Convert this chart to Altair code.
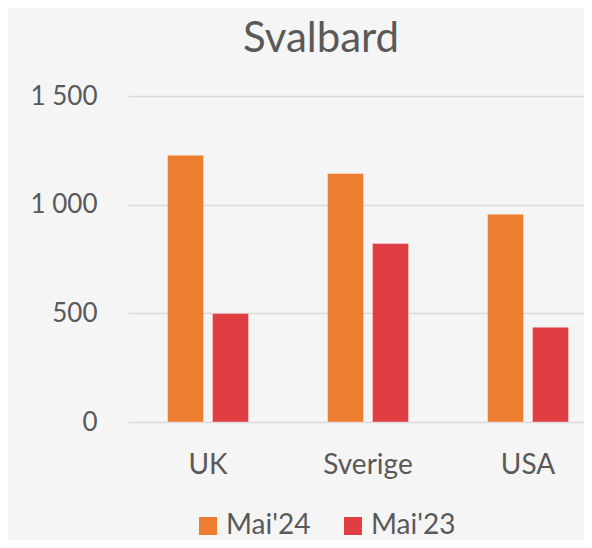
import altair as alt
import pandas as pd

countries = ["UK", "Sverige", "USA"]
series = ["Mai'24", "Mai'23"]
may24 = [1227, 1143, 956]
may23 = [499, 821, 436]
colors = ["#ED7D31", "#DF3E43"]
y_ticks = [0, 500, 1000, 1500]

rows = []
for c, a, b in zip(countries, may24, may23):
    rows.append({"land": c, "periode": series[0], "verdi": a})
    rows.append({"land": c, "periode": series[1], "verdi": b})
df = pd.DataFrame(rows)

text_col = "#595959"
font = "Lato"

chart = (
    alt.Chart(df)
    .mark_bar(stroke="white", strokeWidth=1, strokeOpacity=0.35)
    .encode(
        x=alt.X(
            "land:N",
            sort=countries,
            scale=alt.Scale(range=[0, 480], paddingInner=0, paddingOuter=0),
            axis=alt.Axis(
                title=None, labelAngle=0, domain=False, ticks=False, tickSize=0,
                labelPadding=29, labelFontSize=28, labelColor=text_col, labelFont=font,
            ),
        ),
        xOffset=alt.XOffset(
            "periode:N", sort=series,
            scale=alt.Scale(paddingInner=0.2, paddingOuter=0.878),
        ),
        y=alt.Y(
            "verdi:Q",
            scale=alt.Scale(domain=[0, 1500], nice=False),
            axis=alt.Axis(
                title=None, values=y_ticks, domain=False, ticks=False, tickSize=0,
                labelPadding=31, labelFontSize=26, labelColor=text_col, labelFont=font,
                labelExpr="replace(format(datum.value, ','), ',', ' ')",
                gridColor="#D9D9D9", gridWidth=1.5,
            ),
        ),
        color=alt.Color(
            "periode:N", sort=series,
            scale=alt.Scale(domain=series, range=colors),
            legend=alt.Legend(
                title=None, orient="none", direction="horizontal",
                legendX=66, legendY=416, padding=0,
                symbolType="square", symbolSize=324, symbolStrokeWidth=0,
                labelFontSize=28, labelColor=text_col, labelFont=font,
                labelOffset=4, columnPadding=28,
            ),
        ),
    )
    .properties(
        width=456,
        height=326,
        title=alt.TitleParams(
            "Svalbard", fontSize=42, font=font, color=text_col, fontWeight="normal",
            anchor="middle", frame="group", dx=-35, offset=22,
        ),
        autosize=alt.AutoSizeParams(type="none"),
        padding={"left": 120, "top": 88, "right": 0, "bottom": 118},
        background="#F5F5F5",
    )
    .configure_view(stroke=None)
)

chart.save("out.html", embed_options={"renderer": "svg", "actions": False})
